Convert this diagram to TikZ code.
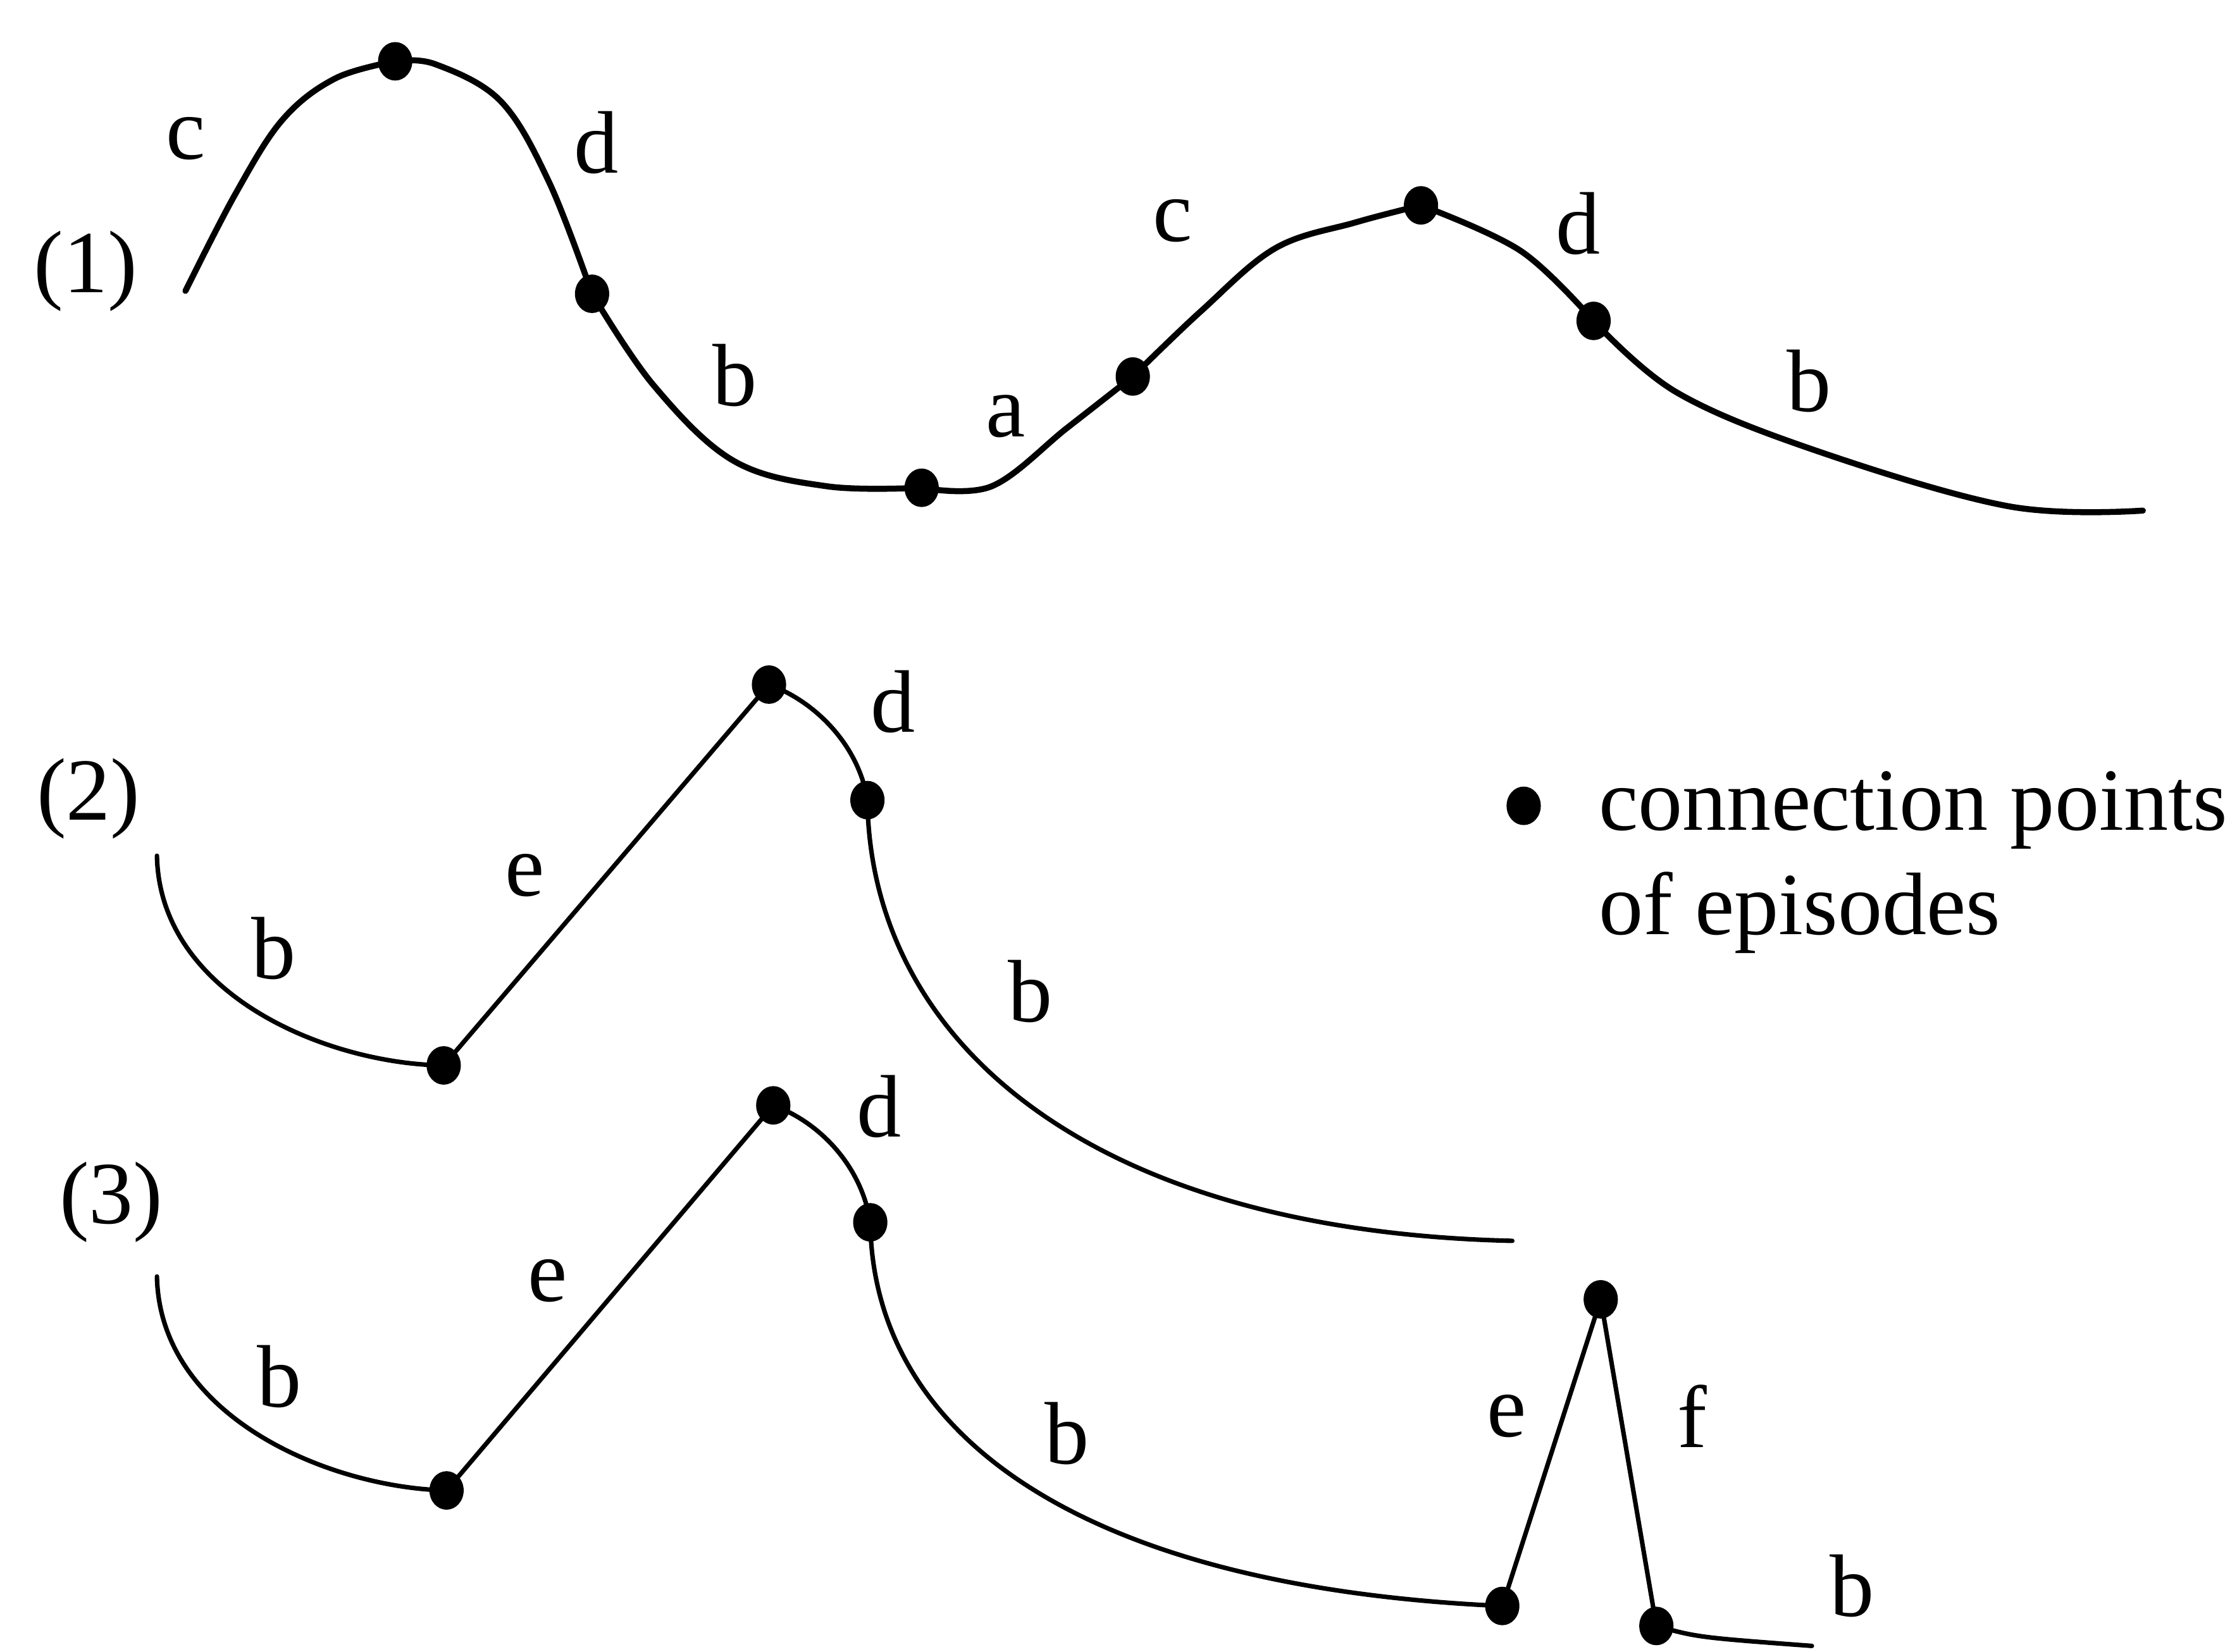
\documentclass[tikz,border=0pt]{standalone}
\usepackage{fontspec}
\setmainfont{Liberation Serif}
\usepackage{tikz}
\usetikzlibrary{shapes.geometric, positioning}

\tikzset{
  episode/.style={line width=1.2pt, line join=round, line cap=round},
  episodethin/.style={line width=0.9pt, line join=round, line cap=round},
  conn/.style={ellipse, fill=black, inner sep=0pt, minimum width=0.24cm, minimum height=0.27cm},
  lbl/.style={inner sep=0pt}
}

\begin{document}
\begin{tikzpicture}[font=\fontsize{17.7}{21.2}\selectfont]
    \useasboundingbox (0,0) rectangle (15.68,11.58);

    % (1) wave: c d b a c d b
    \coordinate (s1) at (1.30,9.54);
    \coordinate (t1) at (15.02,8.00);
    \node[conn] (p1) at (2.77,11.15) {};
    \node[conn] (p2) at (4.15,9.52) {};
    \node[conn] (p3) at (6.46,8.16) {};
    \node[conn] (p4) at (7.94,8.94) {};
    \node[conn] (p5) at (9.96,10.14) {};
    \node[conn] (p6) at (11.17,9.33) {};
    \draw[episode] plot[smooth, tension=0.6] coordinates {(s1) (1.65,10.22) (1.98,10.74) (2.35,11.03) (p1.center)};
    \draw[episode] plot[smooth, tension=0.6] coordinates {(p1.center) (3.05,11.13) (3.51,10.87) (3.85,10.30) (p2.center)};
    \draw[episode] plot[smooth, tension=0.6] coordinates {(p2.center) (4.58,8.88) (5.14,8.35) (5.80,8.17) (p3.center)};
    \draw[episode] plot[smooth, tension=0.6] coordinates {(p3.center) (6.95,8.17) (7.48,8.58) (p4.center)};
    \draw[episode] plot[smooth, tension=0.6] coordinates {(p4.center) (8.42,9.40) (8.94,9.84) (9.50,10.02) (p5.center)};
    \draw[episode] plot[smooth, tension=0.6] coordinates {(p5.center) (10.66,9.82) (p6.center)};
    \draw[episode] plot[smooth, tension=0.6] coordinates {(p6.center) (11.75,8.83) (12.73,8.42) (14.08,8.03) (t1)};
    \node[lbl] (n1) at (0.60,9.68) {(1)};
    \node[lbl] (l1c) at (1.30,10.61) {c};
    \node[lbl] (l1d) at (4.18,10.58) {d};
    \node[lbl] (l1b) at (5.15,8.95) {b};
    \node[lbl] (l1a) at (7.05,8.66) {a};
    \node[lbl] (l1c2) at (8.22,10.03) {c};
    \node[lbl] (l1d2) at (11.06,10.01) {d};
    \node[lbl] (l1b2) at (12.68,8.91) {b};

    % (2) b e d b
    \coordinate (s2) at (1.10,5.58);
    \coordinate (t2) at (10.60,2.88);
    \node[conn] (q1) at (3.11,4.11) {};
    \node[conn] (q2) at (5.39,6.78) {};
    \node[conn] (q3) at (6.08,5.97) {};
    \draw[episodethin] (s2) .. controls (1.12,4.60) and (2.30,4.12) .. (q1.center);
    \draw[episodethin] (q1.center) -- (q2.center);
    \draw[episodethin] (q2.center) .. controls (5.72,6.66) and (6.02,6.35) .. (q3.center);
    \draw[episodethin] (q3.center) .. controls (6.10,4.30) and (7.60,2.95) .. (t2);
    \node[lbl] (n2) at (0.62,5.98) {(2)};
    \node[lbl] (l2b) at (1.92,4.93) {b};
    \node[lbl] (l2e) at (3.68,5.44) {e};
    \node[lbl] (l2d) at (6.26,6.66) {d};
    \node[lbl] (l2b2) at (7.22,4.63) {b};

    % (3) b e d b e f b
    \coordinate (s3) at (1.10,2.63);
    \coordinate (t3) at (12.70,0.04);
    \node[conn] (r1) at (3.13,1.13) {};
    \node[conn] (r2) at (5.42,3.83) {};
    \node[conn] (r3) at (6.10,3.01) {};
    \node[conn] (r4) at (10.53,0.32) {};
    \node[conn] (r5) at (11.22,2.47) {};
    \node[conn] (r6) at (11.61,0.18) {};
    \draw[episodethin] (s3) .. controls (1.12,1.65) and (2.30,1.15) .. (r1.center);
    \draw[episodethin] (r1.center) -- (r2.center);
    \draw[episodethin] (r2.center) .. controls (5.75,3.71) and (6.04,3.40) .. (r3.center);
    \draw[episodethin] (r3.center) .. controls (6.12,1.50) and (7.60,0.45) .. (r4.center);
    \draw[episodethin] (r4.center) -- (r5.center) -- (r6.center);
    \draw[episodethin] (r6.center) .. controls (11.90,0.10) .. (t3);
    \node[lbl] (n3) at (0.78,3.15) {(3)};
    \node[lbl] (l3b) at (1.96,1.93) {b};
    \node[lbl] (l3e) at (3.84,2.60) {e};
    \node[lbl] (l3d) at (6.16,3.82) {d};
    \node[lbl] (l3b2) at (7.48,1.53) {b};
    \node[lbl] (l3e2) at (10.56,1.65) {e};
    \node[lbl] (l3f) at (11.86,1.65) {f};
    \node[lbl] (l3b3) at (12.98,0.46) {b};

    % legend
    \node[conn] (key) at (10.68,5.93) {};
    \node[lbl, anchor=base west] (keytext) at (11.20,5.76) {connection points};
    \node[lbl, anchor=base west] (keytext2) at (11.20,5.03) {of episodes};
\end{tikzpicture}
\end{document}
